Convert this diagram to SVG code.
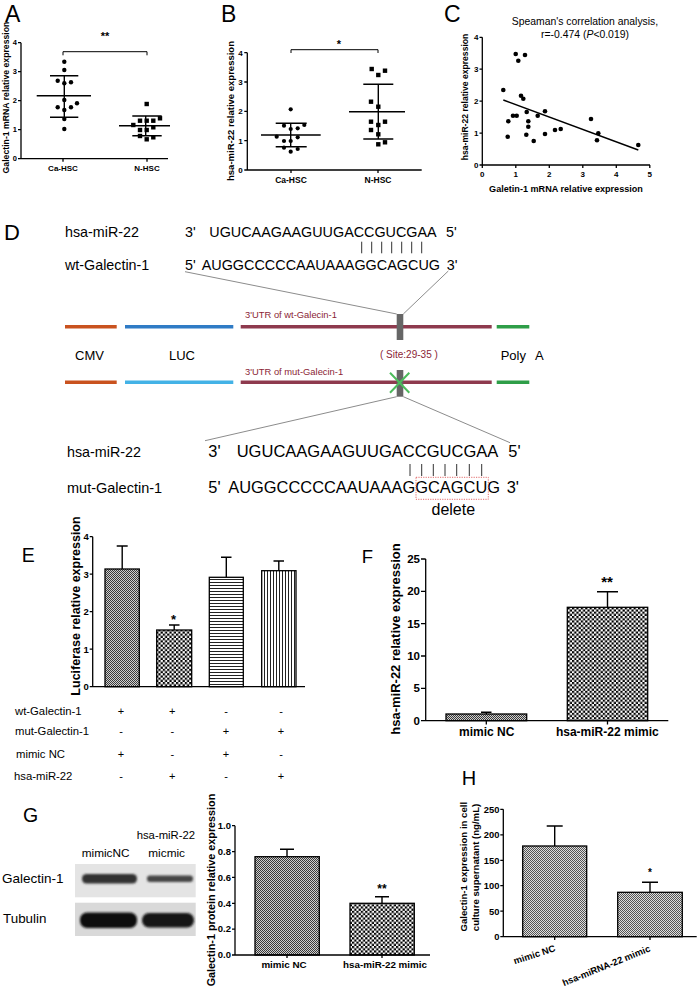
<svg xmlns="http://www.w3.org/2000/svg" width="700" height="1002" viewBox="0 0 700 1002">
<style>
text{font-family:"Liberation Sans",Arial,Helvetica,sans-serif;fill:#000}
.b{font-weight:bold}
.m{text-anchor:middle}
.e{text-anchor:end}
.ax{stroke:#000;stroke-width:1.3;fill:none}
.ln{stroke:#000;stroke-width:1.4;fill:none}
.thin{stroke:#000;stroke-width:1;fill:none}
.bar{stroke:#000;stroke-width:1.3}
.gl{stroke:#8c8c8c;stroke-width:1;fill:none}
.vec{stroke-width:3.6;fill:none}
.utr{fill:#8b2535}
.pair{stroke:#333;stroke-width:1;fill:none}
</style>
<defs>
<pattern id="pFine" width="2" height="2" patternUnits="userSpaceOnUse"><rect width="2" height="2" fill="#cfcfcf"/><rect width="1" height="1" fill="#3a3a3a"/><rect x="1" y="1" width="1" height="1" fill="#3a3a3a"/></pattern>
<pattern id="pLight" width="2" height="2" patternUnits="userSpaceOnUse"><rect width="2" height="2" fill="#dedede"/><rect width="1" height="1" fill="#555"/><rect x="1" y="1" width="1" height="1" fill="#555"/></pattern>
<pattern id="pCheck" width="4.4" height="4.4" patternUnits="userSpaceOnUse"><rect width="4.4" height="4.4" fill="#fff"/><rect width="2.2" height="2.2" fill="#000"/><rect x="2.2" y="2.2" width="2.2" height="2.2" fill="#000"/></pattern>
<pattern id="pH" width="3" height="3" patternUnits="userSpaceOnUse"><rect width="3" height="3" fill="#fff"/><rect width="3" height="1" fill="#222"/></pattern>
<pattern id="pV" width="3" height="3" patternUnits="userSpaceOnUse"><rect width="3" height="3" fill="#fff"/><rect width="1" height="3" fill="#222"/></pattern>
<filter id="blur" x="-20%" y="-60%" width="140%" height="220%"><feGaussianBlur stdDeviation="1.1"/></filter>
</defs>
<rect width="700" height="1002" fill="#fff"/>

<g id="panelA">
<text x="5" y="21.7" font-size="23">A</text>
<path class="ax" d="M21,42.7V158.7H168M18,42.7H21M18,71.7H21M18,100.7H21M18,129.7H21M18,158.7H21M63,158.7V161.7M147,158.7V161.7"/>
<g class="b e" font-size="7.5"><text x="17" y="45.4">4</text><text x="17" y="74.4">3</text><text x="17" y="103.4">2</text><text x="17" y="132.4">1</text><text x="17" y="161.4">0</text></g>
<text class="b m" font-size="8.7" transform="translate(8.8,97.5) rotate(-90)">Galectin-1 mRNA relative expression</text>
<g class="b m" font-size="8"><text x="63" y="171">Ca-HSC</text><text x="147" y="171">N-HSC</text></g>
<path class="thin" d="M63,55.3V51.7H147V55.3"/>
<text class="b m" x="105" y="40" font-size="11">**</text>
<path class="ln" d="M64.3,75.7V117.3M36.7,95.7H91M50,75.7H78.3M50,117.3H78.3"/>
<g fill="#000"><circle cx="64.3" cy="61.7" r="2.2"/><circle cx="64.3" cy="70" r="2.2"/><circle cx="57.7" cy="80.7" r="2.2"/><circle cx="64.3" cy="83.3" r="2.2"/><circle cx="71" cy="82.3" r="2.2"/><circle cx="64.3" cy="100" r="2.2"/><circle cx="77" cy="103.3" r="2.2"/><circle cx="57.7" cy="107.3" r="2.2"/><circle cx="64.3" cy="110" r="2.2"/><circle cx="71" cy="107.3" r="2.2"/><circle cx="64.3" cy="119" r="2.2"/><circle cx="64.3" cy="129" r="2.2"/></g>
<path class="ln" d="M145.7,116V135.7M119,125.7H170M132.3,116H161.7M132.3,135.7H161.7"/>
<g fill="#000"><rect x="144.5" y="101.8" width="4.4" height="4.4"/><rect x="137.8" y="118.5" width="4.4" height="4.4"/><rect x="144.5" y="118.5" width="4.4" height="4.4"/><rect x="151.1" y="118.5" width="4.4" height="4.4"/><rect x="157.8" y="116.1" width="4.4" height="4.4"/><rect x="131.1" y="122.8" width="4.4" height="4.4"/><rect x="137.8" y="127.8" width="4.4" height="4.4"/><rect x="144.5" y="127.8" width="4.4" height="4.4"/><rect x="151.1" y="125.1" width="4.4" height="4.4"/><rect x="137.8" y="133.8" width="4.4" height="4.4"/><rect x="144.5" y="137.1" width="4.4" height="4.4"/><rect x="151.1" y="135.1" width="4.4" height="4.4"/></g>
</g>

<g id="panelB">
<text x="221" y="22" font-size="23">B</text>
<path class="ax" d="M247.3,52.7V170H421.7M244.3,52.7H247.3M244.3,82H247.3M244.3,111.3H247.3M244.3,140.7H247.3M244.3,170H247.3M291,170V173M378,170V173"/>
<g class="b e" font-size="8"><text x="242.8" y="55.5">4</text><text x="242.8" y="84.8">3</text><text x="242.8" y="114.1">2</text><text x="242.8" y="143.5">1</text><text x="242.8" y="172.8">0</text></g>
<text class="b m" font-size="9.5" transform="translate(233.5,111) rotate(-90)">hsa-miR-22 relative expression</text>
<g class="b m" font-size="8.5"><text x="291" y="182.5">Ca-HSC</text><text x="378" y="182.5">N-HSC</text></g>
<path class="thin" d="M291,53V49.7H378V53"/>
<text class="b m" x="339" y="47.5" font-size="11">*</text>
<path class="ln" d="M290.7,123.3V146.7M261,135H320.7M275.7,123.3H306.7M275.7,146.7H306.7"/>
<g fill="#000"><circle cx="290.7" cy="109.3" r="2.1"/><circle cx="284" cy="125.7" r="2.1"/><circle cx="290.7" cy="129" r="2.1"/><circle cx="297.7" cy="128.3" r="2.1"/><circle cx="304.3" cy="125" r="2.1"/><circle cx="276.7" cy="136.7" r="2.1"/><circle cx="284" cy="141" r="2.1"/><circle cx="290.7" cy="141" r="2.1"/><circle cx="297.7" cy="137.3" r="2.1"/><circle cx="284" cy="147.7" r="2.1"/><circle cx="290.7" cy="151.7" r="2.1"/><circle cx="297.7" cy="149" r="2.1"/></g>
<path class="ln" d="M378.3,84.3V139M349,111.7H405M363.3,84.3H393.3M363.3,139H393.3"/>
<g fill="#000"><rect x="369.5" y="66.8" width="4.4" height="4.4"/><rect x="376.1" y="72.8" width="4.4" height="4.4"/><rect x="382.8" y="68.5" width="4.4" height="4.4"/><rect x="368.8" y="99.5" width="4.4" height="4.4"/><rect x="376.1" y="104.5" width="4.4" height="4.4"/><rect x="368.8" y="119.5" width="4.4" height="4.4"/><rect x="376.1" y="122.8" width="4.4" height="4.4"/><rect x="382.8" y="119.5" width="4.4" height="4.4"/><rect x="368.8" y="127.8" width="4.4" height="4.4"/><rect x="376.1" y="132.1" width="4.4" height="4.4"/><rect x="376.1" y="142.1" width="4.4" height="4.4"/><rect x="382.8" y="140.1" width="4.4" height="4.4"/></g>
</g>

<g id="panelC">
<text x="444" y="22" font-size="23">C</text>
<text class="m" x="585" y="24.5" font-size="10.4">Speaman's correlation analysis,</text>
<text class="m" x="585" y="37.5" font-size="10.4">r=-0.474 (<tspan font-style="italic">P</tspan>&lt;0.019)</text>
<path class="ax" d="M482.3,37.3V165H650M479.5,37.3H482.3M479.5,69.2H482.3M479.5,101.2H482.3M479.5,133.1H482.3M479.5,165H482.3M482.3,165V168M515.8,165V168M549.3,165V168M582.8,165V168M616.3,165V168M649.8,165V168"/>
<g class="b e" font-size="8"><text x="478.5" y="40.1">4</text><text x="478.5" y="72">3</text><text x="478.5" y="104">2</text><text x="478.5" y="135.9">1</text><text x="478.5" y="167.8">0</text></g>
<g class="b m" font-size="8"><text x="482.3" y="177">0</text><text x="515.8" y="177">1</text><text x="549.3" y="177">2</text><text x="582.8" y="177">3</text><text x="616.3" y="177">4</text><text x="649.8" y="177">5</text></g>
<text class="b m" x="566" y="192" font-size="9.1">Galetin-1 mRNA relative expression</text>
<text class="b m" font-size="8.6" transform="translate(468,97) rotate(-90)">hsa-miR-22 relative expression</text>
<line class="ln" x1="503.3" y1="100" x2="638.3" y2="150"/>
<g fill="#000"><circle cx="503.3" cy="90" r="2.3"/><circle cx="515.7" cy="54" r="2.3"/><circle cx="525" cy="55" r="2.3"/><circle cx="518.3" cy="60.7" r="2.3"/><circle cx="521" cy="95.7" r="2.3"/><circle cx="523.3" cy="98.7" r="2.3"/><circle cx="508.3" cy="121.3" r="2.3"/><circle cx="513" cy="115.7" r="2.3"/><circle cx="516.7" cy="115.7" r="2.3"/><circle cx="507.7" cy="136.7" r="2.3"/><circle cx="526.7" cy="112" r="2.3"/><circle cx="528.3" cy="121.3" r="2.3"/><circle cx="528.3" cy="126.7" r="2.3"/><circle cx="526.3" cy="134.7" r="2.3"/><circle cx="533.7" cy="141" r="2.3"/><circle cx="537.7" cy="115.7" r="2.3"/><circle cx="545" cy="111.3" r="2.3"/><circle cx="545" cy="134" r="2.3"/><circle cx="555" cy="130" r="2.3"/><circle cx="560.7" cy="129" r="2.3"/><circle cx="591" cy="119" r="2.3"/><circle cx="598.3" cy="133.3" r="2.3"/><circle cx="597" cy="140.3" r="2.3"/><circle cx="638.3" cy="145" r="2.3"/></g>
</g>

<g id="panelD">
<text x="4" y="240" font-size="22">D</text>
<g id="wtSeq" font-size="14.3">
<text x="65" y="236.7">hsa-miR-22</text>
<text x="185" y="236.7">3'</text>
<text x="209.3" y="236.7" textLength="227.4" lengthAdjust="spacingAndGlyphs">UGUCAAGAAGUUGACCGUCGAA</text>
<text x="446" y="236.7">5'</text>
<path class="pair" d="M361.7,241.7V253.3M371.7,241.7V253.3M381.7,241.7V253.3M391.7,241.7V253.3M401.7,241.7V253.3M411.7,241.7V253.3M421.7,241.7V253.3"/>
<text x="65" y="270">wt-Galectin-1</text>
<text x="185" y="270">5'</text>
<text x="201.7" y="270" textLength="238.3" lengthAdjust="spacingAndGlyphs">AUGGCCCCCAAUAAAGGCAGCUG</text>
<text x="446.7" y="270">3'</text>
</g>
<g id="vector">
<path class="vec" stroke="#c9521f" d="M65,326.7H116.7M65,382.3H116.7"/>
<path class="vec" stroke="#2f7bc5" d="M125,326.7H233.3"/>
<path class="vec" stroke="#43b2e6" d="M125,382.3H233.3"/>
<path class="vec" stroke="#8e3a4e" d="M240.7,326.7H491.7M240.7,382.3H491.7"/>
<path class="vec" stroke="#2e9e48" d="M496.7,326.7H529.3M496.7,382.3H529.3"/>
<rect x="396.7" y="314" width="6.6" height="26" fill="#666"/>
<rect x="396.7" y="370" width="6.6" height="26.7" fill="#666"/>
<path stroke="#4cbb5c" stroke-width="2" d="M390,372.7L409.3,392.7M409.3,372.7L390,392.7"/>
<text class="utr" x="245" y="318.3" font-size="9.4">3'UTR of wt-Galecin-1</text>
<text class="utr" x="245" y="375" font-size="9.4">3'UTR of mut-Galecin-1</text>
<text class="utr" x="380" y="358.3" font-size="10">( Site:29-35 )</text>
<text x="75" y="360" font-size="13">CMV</text>
<text x="169" y="360" font-size="13">LUC</text>
<text x="500.7" y="360" font-size="13">Poly<tspan x="535">A</tspan></text>
</g>
<g id="mutSeq">
<text x="67" y="456.7" font-size="14.3">hsa-miR-22</text>
<text x="208.3" y="456.7" font-size="16.4">3'</text>
<text x="236.7" y="456.7" font-size="16.4" textLength="261.6" lengthAdjust="spacingAndGlyphs">UGUCAAGAAGUUGACCGUCGAA</text>
<text x="508.3" y="456.7" font-size="16.4">5'</text>
<path class="pair" d="M410,464V476M421.7,464V476M433.3,464V476M445,464V476M456.7,464V476M469.3,464V476M481.7,464V476"/>
<text x="67" y="493.3" font-size="14.5">mut-Galectin-1</text>
<text x="208.3" y="493.3" font-size="16.4">5'</text>
<text x="228.3" y="493.3" font-size="16.4" textLength="271.7" lengthAdjust="spacingAndGlyphs">AUGGCCCCCAAUAAAGGCAGCUG</text>
<text x="506.7" y="493.3" font-size="16.4">3'</text>
<rect x="416" y="477.3" width="72.3" height="22" fill="none" stroke="#e05a5a" stroke-width="0.9" stroke-dasharray="1.2,1.2"/>
<text class="m" x="453.3" y="515" font-size="16">delete</text>
</g>
</g>

<g id="connectors">
<path class="gl" d="M185,271.7L396.7,314M448.3,271L403.3,314M396.7,396.7L205,440.7M403.3,396.7L510,442.7"/>
</g>

<g id="panelE">
<text x="21.7" y="561.7" font-size="19.5">E</text>
<rect class="bar" x="105" y="569" width="34.3" height="117.7" fill="url(#pFine)"/>
<rect class="bar" x="156.7" y="630" width="35" height="56.7" fill="url(#pCheck)"/>
<rect class="bar" x="209.3" y="577.3" width="34" height="109.4" fill="url(#pH)"/>
<rect class="bar" x="261.7" y="570.7" width="34.3" height="116" fill="url(#pV)"/>
<path class="ln" d="M122.2,569V546M116.7,546H127.7M174.2,630V625M169,625H179.5M226.3,577.3V557.3M221,557.3H231.5M278.8,570.7V561M273.5,561H284"/>
<path class="ax" d="M92.7,536.7V686.7H305M89.7,536.7H92.7M89.7,574.2H92.7M89.7,611.7H92.7M89.7,649.2H92.7M89.7,686.7H92.7"/>
<g class="b e" font-size="9.5"><text x="88.8" y="540">4</text><text x="88.8" y="577.5">3</text><text x="88.8" y="615">2</text><text x="88.8" y="652.5">1</text><text x="88.8" y="690">0</text></g>
<text class="b m" x="173.5" y="624" font-size="13">*</text>
<text class="b m" font-size="12.5" transform="translate(80,606) rotate(-90)">Luciferase relative expression</text>
<g font-size="11.3"><text x="15" y="715">wt-Galectin-1</text><text x="15" y="735">mut-Galectin-1</text><text x="16" y="758">mimic NC</text><text x="14" y="780">hsa-miR-22</text></g>
<g class="m" font-size="11">
<text x="121" y="715">+</text><text x="172.3" y="715">+</text><text x="226" y="715">-</text><text x="281" y="715">-</text>
<text x="121" y="735">-</text><text x="172.3" y="735">-</text><text x="226" y="735">+</text><text x="281" y="735">+</text>
<text x="121" y="758">+</text><text x="172.3" y="758">-</text><text x="226" y="758">+</text><text x="281" y="758">-</text>
<text x="121" y="780">-</text><text x="172.3" y="780">+</text><text x="226" y="780">-</text><text x="281" y="780">+</text>
</g>
</g>

<g id="panelF">
<text x="361.7" y="563.3" font-size="18.5">F</text>
<rect class="bar" x="446" y="714" width="80.7" height="6.7" fill="url(#pFine)"/>
<rect class="bar" x="567.3" y="607.3" width="80.4" height="113.4" fill="url(#pCheck)"/>
<path class="ln" d="M486.3,714V712.3M481,712.3H491.5M607.5,607.3V591.7M597,591.7H618"/>
<path class="ax" d="M425.7,559V720.7H668.3M421,559H425.7M421,591.3H425.7M421,623.7H425.7M421,656H425.7M421,688.3H425.7M421,720.7H425.7M486.3,720.7V724.5M607.5,720.7V724.5"/>
<g class="b e" font-size="11.5"><text x="420" y="563">25</text><text x="420" y="595.3">20</text><text x="420" y="627.7">15</text><text x="420" y="660">10</text><text x="420" y="692.3">5</text><text x="420" y="724.7">0</text></g>
<text class="b m" x="607" y="587" font-size="15">**</text>
<g class="b m" font-size="12"><text x="486.7" y="736">mimic NC</text><text x="607.3" y="736">hsa-miR-22 mimic</text></g>
<text class="b m" font-size="13" transform="translate(400,639) rotate(-90)">hsa-miR-22 relative expression</text>
</g>

<g id="panelG">
<text x="23" y="821.7" font-size="19.5">G</text>
<g font-size="11.8"><text x="136.7" y="839.3" font-size="11.3">hsa-miR-22</text><text x="81.7" y="857.3">mimicNC</text><text x="148.3" y="857.3">micmic</text></g>
<rect x="75" y="864" width="120.7" height="33.3" fill="#e4e4e4"/>
<rect x="75" y="902.7" width="120.7" height="33.3" fill="#d9d9d9"/>
<rect x="82" y="874" width="55" height="9.5" rx="4.5" fill="#333" filter="url(#blur)"/>
<rect x="147" y="875.5" width="46" height="6.5" rx="3" fill="#444" filter="url(#blur)"/>
<rect x="80" y="912.5" width="57" height="15.5" rx="7" fill="#111" filter="url(#blur)"/>
<rect x="142" y="913" width="52" height="14.5" rx="7" fill="#151515" filter="url(#blur)"/>
<text x="2" y="883.3" font-size="13.5">Galectin-1</text>
<text x="3" y="923.3" font-size="13.4">Tubulin</text>
<rect class="bar" x="255" y="856.7" width="64.3" height="98.3" fill="url(#pFine)"/>
<rect class="bar" x="350" y="903.3" width="64.3" height="51.7" fill="url(#pCheck)"/>
<path class="ln" d="M287,856.7V849.3M280,849.3H294M382,903.3V896.7M375,896.7H389"/>
<path class="ax" d="M235,825.7V955H430M232,825.7H235M232,851.6H235M232,877.4H235M232,903.3H235M232,929.1H235M232,955H235M287,955V958M382,955V958"/>
<g class="b e" font-size="9.5"><text x="231" y="829">1.0</text><text x="231" y="854.9">0.8</text><text x="231" y="880.7">0.6</text><text x="231" y="906.6">0.4</text><text x="231" y="932.4">0.2</text><text x="231" y="958.3">0.0</text></g>
<text class="b m" x="382" y="893" font-size="12">**</text>
<g class="b m" font-size="9.8"><text x="284" y="968">mimic NC</text><text x="385" y="968">hsa-miR-22 mimic</text></g>
<text class="b m" font-size="10.8" transform="translate(215,890) rotate(-90)">Galectin-1 protein relative expression</text>
</g>

<g id="panelH">
<text x="461.7" y="785" font-size="20">H</text>
<rect class="bar" x="522.7" y="846" width="64" height="90.7" fill="url(#pLight)"/>
<rect class="bar" x="617.7" y="892.3" width="64.6" height="44.4" fill="url(#pLight)"/>
<path class="ln" d="M554.7,846V826M546.7,826H562.7M650,892.3V882.3M642,882.3H658"/>
<path class="ax" d="M503.3,809.3V936.7H696.7M500.3,809.3H503.3M500.3,834.8H503.3M500.3,860.3H503.3M500.3,885.7H503.3M500.3,911.2H503.3M500.3,936.7H503.3M554.7,936.7V940M650,936.7V940"/>
<g class="b e" font-size="9.4"><text x="499.5" y="812.6">250</text><text x="499.5" y="838.1">200</text><text x="499.5" y="863.6">150</text><text x="499.5" y="889">100</text><text x="499.5" y="914.5">50</text><text x="499.5" y="940">0</text></g>
<text class="b m" x="650" y="876" font-size="10">*</text>
<text class="b e" font-size="9.4" transform="translate(556,951) rotate(-18)">mimic NC</text>
<text class="b e" font-size="9.4" transform="translate(651,951) rotate(-22)">hsa-miRNA-22 mimic</text>
<text class="b m" font-size="9.6" transform="translate(466.5,866.7) rotate(-90)">Galectin-1 expression in cell</text>
<text class="b m" font-size="9.6" transform="translate(478.5,867.5) rotate(-90)">culture supernatant (ng/mL)</text>
</g>
</svg>
